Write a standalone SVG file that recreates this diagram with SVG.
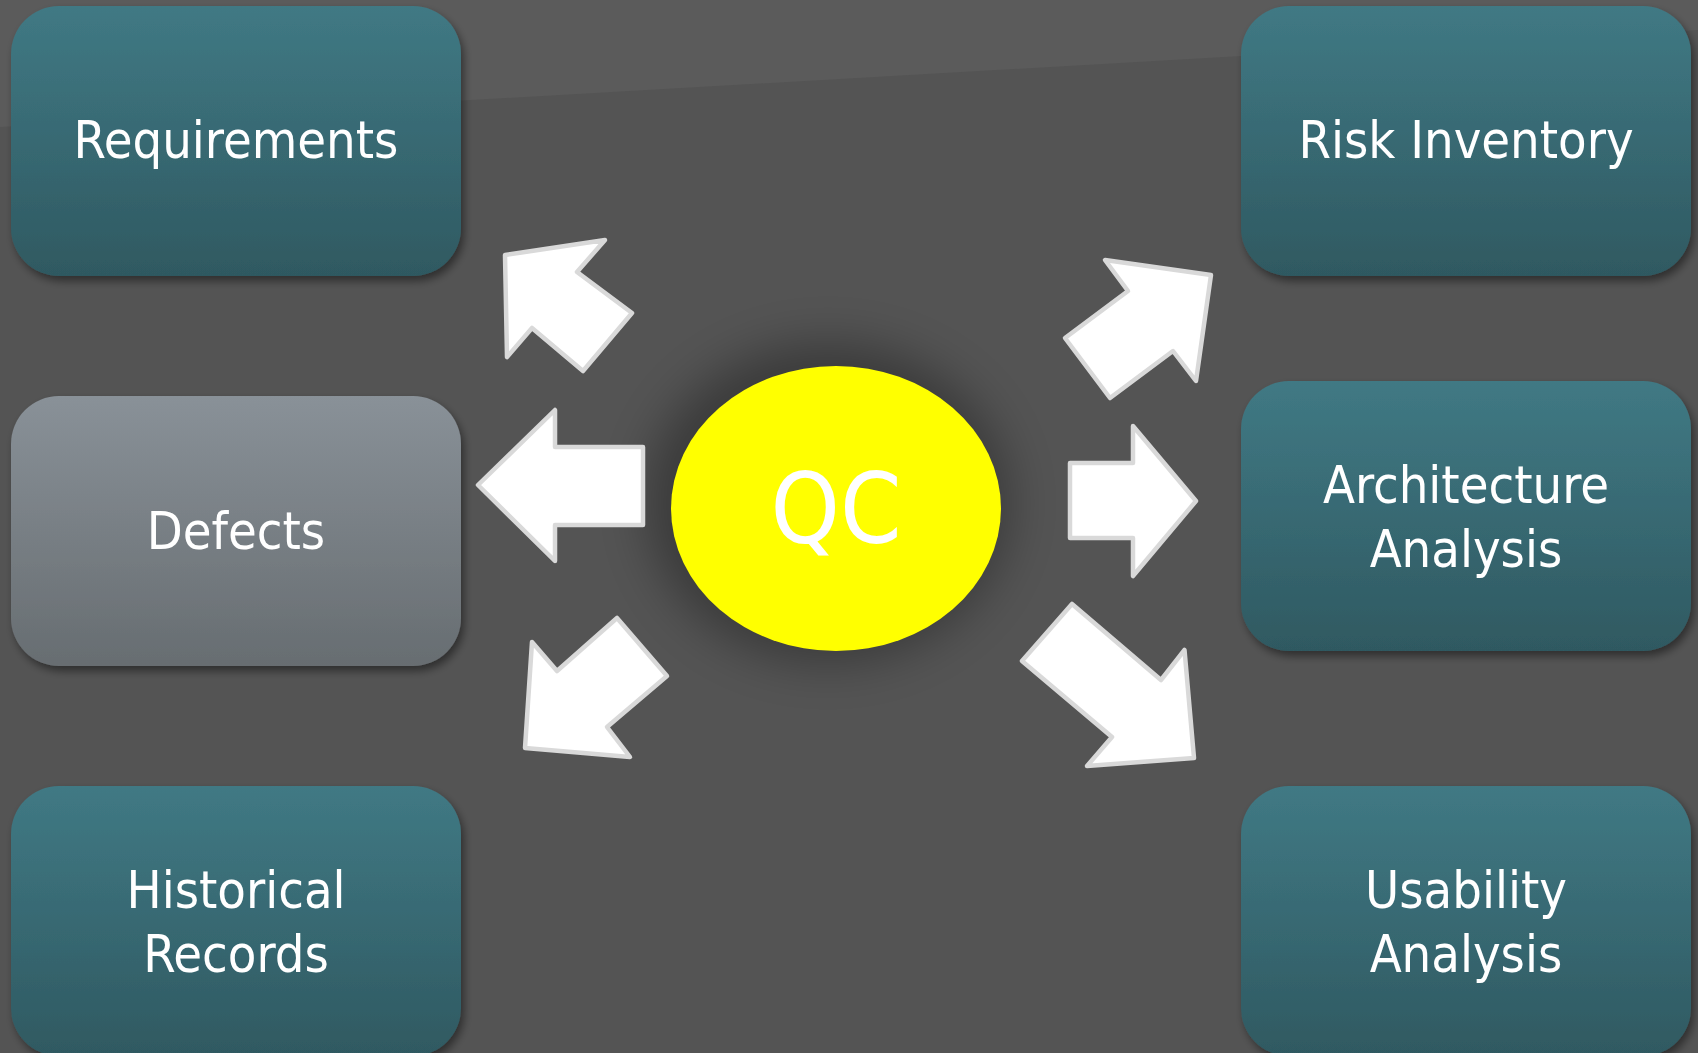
<svg xmlns="http://www.w3.org/2000/svg" width="1698" height="1053" viewBox="0 0 1698 1053">
  <defs>
    <linearGradient id="teal" x1="0" y1="0" x2="0" y2="1">
      <stop offset="0" stop-color="#407984"/>
      <stop offset="1" stop-color="#2f5961"/>
    </linearGradient>
    <linearGradient id="gray" x1="0" y1="0" x2="0" y2="1">
      <stop offset="0" stop-color="#899198"/>
      <stop offset="1" stop-color="#676d71"/>
    </linearGradient>
    <filter id="shadow" x="-10%" y="-10%" width="125%" height="130%">
      <feGaussianBlur in="SourceAlpha" stdDeviation="4"/>
      <feOffset dx="3" dy="5" result="b"/>
      <feComponentTransfer><feFuncA type="linear" slope="0.45"/></feComponentTransfer>
      <feMerge><feMergeNode/><feMergeNode in="SourceGraphic"/></feMerge>
    </filter>
    <filter id="glow" x="-50%" y="-50%" width="200%" height="200%">
      <feGaussianBlur stdDeviation="24"/>
    </filter>
    <style>
      .box { filter: url(#shadow); }
      .lbl { font-family: 'DejaVu Sans Condensed', 'DejaVu Sans', sans-serif; font-stretch: condensed; font-size: 52px; fill: #ffffff; text-anchor: middle; }
      .arrow { fill: #ffffff; stroke: #d9d9d9; stroke-width: 4.5; stroke-linejoin: round; }
    </style>
  </defs>

  <g id="background">
    <rect x="0" y="0" width="1698" height="1053" fill="#545454"/>
    <polygon points="0,0 1698,0 1698,30 0,127" fill="#5b5b5b"/>
  </g>

  <g id="node-qc">
    <ellipse cx="828" cy="503" rx="182" ry="160" fill="#000000" opacity="0.3" filter="url(#glow)"/>
    <ellipse cx="836" cy="508.5" rx="165" ry="142.5" fill="#ffff00"/>
    <text x="836" y="543" class="lbl" style="font-size:98px">QC</text>
  </g>

  <g id="connectors">
    <polygon class="arrow" points="478,485 555,410 555,447 643,447 643,525 555,525 555,561"/>
    <polygon class="arrow" points="505,255 605,240 577,272 632,313 583,371 532,328 507,357"/>
    <polygon class="arrow" points="617,618 667,676 607,727 630,757 525,748 532,642 557,671"/>
    <polygon class="arrow" points="1105,260 1211,275 1196,381 1173,351 1110,398 1065,338 1128,291"/>
    <polygon class="arrow" points="1133,426 1196,501 1133,576 1133,538 1070,538 1070,463 1133,463"/>
    <polygon class="arrow" points="1072,604 1161,680 1184.5,650 1194,758 1087,766 1112,737 1022,661"/>
  </g>

  <g id="node-requirements">
    <rect class="box" x="11" y="6" width="450" height="270" rx="48" ry="48" fill="url(#teal)"/>
    <text x="236" y="158" class="lbl">Requirements</text>
  </g>

  <g id="node-defects">
    <rect class="box" x="11" y="396" width="450" height="270" rx="48" ry="48" fill="url(#gray)"/>
    <text x="236" y="549" class="lbl">Defects</text>
  </g>

  <g id="node-historical-records">
    <rect class="box" x="11" y="786" width="450" height="270" rx="48" ry="48" fill="url(#teal)"/>
    <text x="236" y="908" class="lbl">Historical</text>
    <text x="236" y="972" class="lbl">Records</text>
  </g>

  <g id="node-risk-inventory">
    <rect class="box" x="1241" y="6" width="450" height="270" rx="48" ry="48" fill="url(#teal)"/>
    <text x="1466" y="158" class="lbl">Risk Inventory</text>
  </g>

  <g id="node-architecture-analysis">
    <rect class="box" x="1241" y="381" width="450" height="270" rx="48" ry="48" fill="url(#teal)"/>
    <text x="1466" y="503" class="lbl">Architecture</text>
    <text x="1466" y="567" class="lbl">Analysis</text>
  </g>

  <g id="node-usability-analysis">
    <rect class="box" x="1241" y="786" width="450" height="270" rx="48" ry="48" fill="url(#teal)"/>
    <text x="1466" y="908" class="lbl">Usability</text>
    <text x="1466" y="972" class="lbl">Analysis</text>
  </g>
</svg>
